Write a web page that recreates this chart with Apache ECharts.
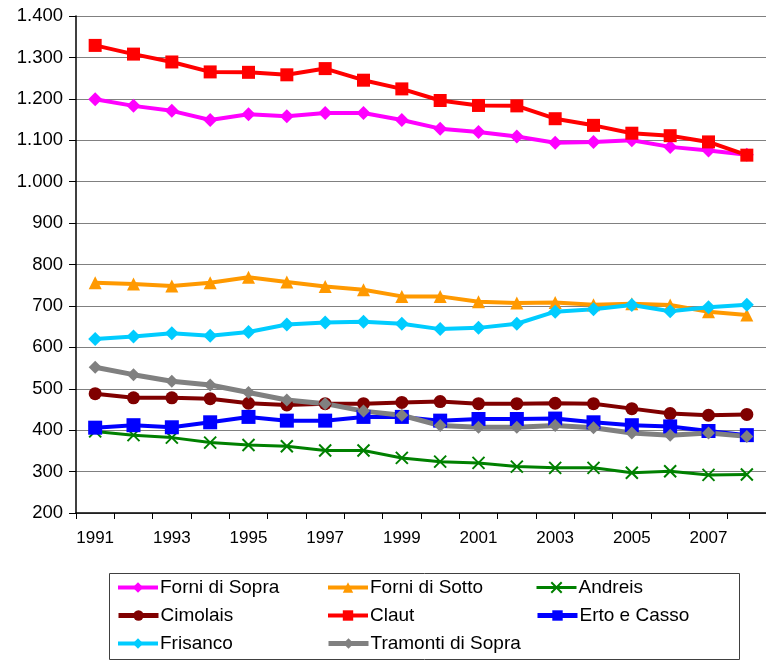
<!DOCTYPE html>
<html>
<head>
<meta charset="utf-8">
<script src="https://cdn.jsdelivr.net/npm/echarts@6/dist/echarts.min.js"></script>
<style>
html,body{margin:0;padding:0;background:#fff;}
#chart{width:766px;height:660px;}
</style>
</head>
<body>
<div id="chart"></div>
<script>
var years = ['1991','1992','1993','1994','1995','1996','1997','1998','1999','2000','2001','2002','2003','2004','2005','2006','2007','2008'];
var forniSopra = [1199,1183,1171,1149,1163,1158,1166,1166,1149,1128,1120,1109,1094,1096,1100,1084,1075,1065];
var forniSotto = [756,753,748,756,769,758,747,739,723,723,710,707,708,703,705,702,686,678];
var andreis = [397,388,382,370,364,361,351,351,333,324,321,312,309,309,297,301,292,293];
var cimolais = [488,478,478,476,465,461,464,464,467,469,464,464,465,464,452,440,436,438];
var claut = [1329,1308,1289,1265,1264,1258,1273,1245,1224,1196,1184,1183,1152,1136,1117,1111,1096,1064];
var ertoCasso = [406,412,407,419,432,423,423,432,432,423,427,427,428,419,412,409,398,388];
var frisanco = [620,626,634,628,637,655,660,662,657,644,647,657,686,692,702,687,697,703];
var tramonti = [552,534,518,509,491,473,464,446,436,411,407,407,411,406,393,388,393,385];
var yTicks = {min:200, max:1400, step:100};

var FONT = '"Liberation Sans", Arial, sans-serif';
function fmt(v){
  if (v >= 1000) { var r = String(v % 1000); while (r.length < 3) r = '0' + r; return Math.floor(v/1000) + '.' + r; }
  return String(v);
}
var crossPath = 'path://M0,0L10,10M10,0L0,10';
function mk(name, data, color, symbol, size, width, extra){
  var s = {
    name: name, type: 'line', data: data, symbol: symbol, symbolSize: size,
    lineStyle: {color: color, width: width},
    itemStyle: {color: color},
    emphasis: {disabled: true}, animation: false
  };
  if (extra) s = Object.assign(s, extra);
  return s;
}
var series = [
  mk('Forni di Sopra', forniSopra, '#FF00FF', 'diamond', 14, 4),
  mk('Forni di Sotto', forniSotto, '#FF9900', 'triangle', 13, 4),
  mk('Andreis', andreis, '#008000', crossPath, 12, 3, {itemStyle:{color:'rgba(0,0,0,0)', borderColor:'#008000', borderWidth:2}}),
  mk('Cimolais', cimolais, '#800000', 'circle', 13, 4),
  mk('Claut', claut, '#FF0000', 'rect', 13, 4),
  mk('Erto e Casso', ertoCasso, '#0000FF', 'rect', 14, 4),
  mk('Frisanco', frisanco, '#00CCFF', 'diamond', 14, 4),
  mk('Tramonti di Sopra', tramonti, '#808080', 'diamond', 13, 5)
];
var legendNames = ['Forni di Sopra','Forni di Sotto','Andreis','Cimolais','Claut','Erto e Casso','Frisanco','Tramonti di Sopra'];
var legendLineW = [4, 4, 3, 5, 4, 5, 4, 5];
var colLeft = [116, 326, 535];
var rowTop = [578, 606, 634];
var legends = legendNames.map(function(n, i){
  return {
    orient: 'horizontal', left: colLeft[i % 3], top: rowTop[Math.floor(i / 3)],
    itemWidth: 40, itemHeight: 13, padding: 0,
    selectedMode: false, data: [n],
    lineStyle: {width: legendLineW[i]},
    textStyle: {fontFamily: FONT, fontSize: 19, color: '#000', padding:[0,0,0,-3]}
  };
});
var chart = echarts.init(document.getElementById('chart'), null, {renderer: 'canvas'});
chart.setOption({
  animation: false,
  backgroundColor: '#fff',
  grid: {left: 76, top: 16, width: 696, height: 497, containLabel: false},
  xAxis: {
    type: 'category', data: years, boundaryGap: true,
    axisLine: {lineStyle: {color: '#000', width: 1.5}},
    axisTick: {show: true, interval: 0, length: 6, lineStyle: {color: '#000'}},
    axisLabel: {interval: 1, margin: 17, fontFamily: FONT, fontSize: 17, color: '#000'},
    splitLine: {show: false}
  },
  yAxis: {
    type: 'value', min: yTicks.min, max: yTicks.max, interval: yTicks.step,
    axisLine: {show: true, lineStyle: {color: '#000', width: 1.5}},
    axisTick: {show: true, length: 7, lineStyle: {color: '#000'}},
    axisLabel: {formatter: fmt, margin: 13, fontFamily: FONT, fontSize: 18.5, color: '#000'},
    splitLine: {show: true, lineStyle: {color: '#808080', width: 1}}
  },
  legend: legends,
  graphic: [{
    type: 'rect', left: 109, top: 573, z: -1,
    shape: {width: 630, height: 86},
    style: {fill: '#fff', stroke: '#404040', lineWidth: 1}
  }],
  series: series
});
</script>
</body>
</html>
